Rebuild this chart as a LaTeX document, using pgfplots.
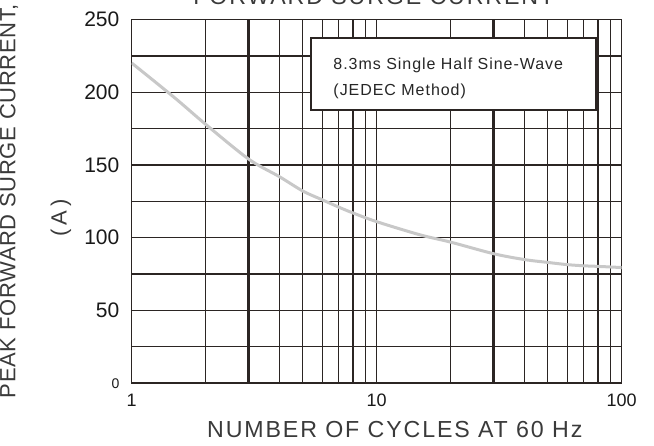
\documentclass[border=0pt]{standalone}
\usepackage{fontspec}
\setmainfont{Liberation Sans}
\newfontfamily\labfont[LetterSpace=8]{Liberation Sans}
\newfontfamily\ylabfont[LetterSpace=3]{Liberation Sans}
\newfontfamily\afont[LetterSpace=18]{Liberation Sans}
\newfontfamily\legfont[LetterSpace=6]{Liberation Sans}
\usepackage{pgfplots}
\pgfplotsset{compat=1.18}
\definecolor{gridc}{HTML}{2B2523}
\definecolor{curvec}{HTML}{C8C8C8}
\definecolor{labc}{HTML}{3A3A3A}
\begin{document}
\begin{tikzpicture}
\begin{axis}[
  scale only axis, width=245pt, height=182pt,
  xmode=log, xmin=1, xmax=100, ymin=0, ymax=250,
  xtick={1,10,100}, xticklabels={1,10,100},
  minor xtick={2,3,4,5,6,7,8,9,20,30,40,50,60,70,80,90},
  ytick={0,50,100,150,200,250},
  yticklabels={{\fontsize{7}{8}\selectfont 0},50,100,150,200,250},
  minor ytick={25,75,125,175,225},
  grid=both,
  major grid style={gridc, line width=0.55pt},
  minor grid style={gridc, line width=0.55pt},
  extra x ticks={3,30}, extra x tick labels={},
  extra y ticks={75,150,225}, extra y tick labels={},
  extra tick style={grid=major, major grid style={gridc, line width=1.1pt}},
  tick style={draw=none},
  axis line style={gridc, line width=0.6pt},
  yticklabel style={font=\fontsize{10.5}{12}\selectfont, text=black!90, inner sep=0pt, anchor=east, xshift=-6pt},
  xticklabel style={font=\fontsize{9}{10}\selectfont, text=black!90, inner sep=0pt, anchor=north, yshift=-5pt},
  /pgf/number format/assume math mode=true,
  clip mode=individual,
]
\addplot[curvec, line width=1.5pt, smooth] coordinates {
  (1,220) (1.5,196) (2,178) (3,154) (4,142) (5,132) (6,126) (7,121)
  (8,117) (10,111) (15,102) (20,97) (30,89) (40,85) (50,83) (60,81.5)
  (70,80.7) (80,80.3) (100,79.5)
};
\draw[gridc, line width=1.1pt] (rel axis cs:0,0) -- (rel axis cs:1,0);
\draw[gridc, line width=0.6pt, fill=white] (rel axis cs:0.366,0.751) rectangle (rel axis cs:0.9476,0.9486);
\node[anchor=west, inner sep=0pt, font={\legfont\fontsize{8}{9}\selectfont}, text=black!85] at (rel axis cs:0.411,0.874) {8.3ms Single Half Sine-Wave};
\node[anchor=west, inner sep=0pt, font={\legfont\fontsize{8}{9}\selectfont}, text=black!85] at (rel axis cs:0.411,0.801) {(JEDEC Method)};
\node[anchor=base, inner sep=0pt, yshift=7.4pt, font={\labfont\fontsize{11.6}{13}\selectfont}, text=labc] at (rel axis cs:0.494,1) {FORWARD SURGE CURRENT};
\node[anchor=center, inner sep=0pt, yshift=-23.35pt, font={\labfont\fontsize{11.6}{13}\selectfont}, text=labc] at (rel axis cs:0.537,0) {NUMBER OF CYCLES AT 60 Hz};
\node[anchor=center, inner sep=0pt, rotate=90, font={\ylabfont\fontsize{11}{13}\selectfont}, text=labc] at ([xshift=-61.35pt]rel axis cs:0,0.5008) {PEAK FORWARD SURGE CURRENT,};
\node[anchor=center, inner sep=0pt, rotate=90, font={\afont\fontsize{11}{13}\selectfont}, text=labc] at ([xshift=-35.35pt]rel axis cs:0,0.455) {(A)};
\coordinate (O) at (rel axis cs:0,0);
\end{axis}
\pgfresetboundingbox
\path (O) ++(-65.85pt,-30.85pt) rectangle ++(327pt,222.5pt);
\end{tikzpicture}
\end{document}
